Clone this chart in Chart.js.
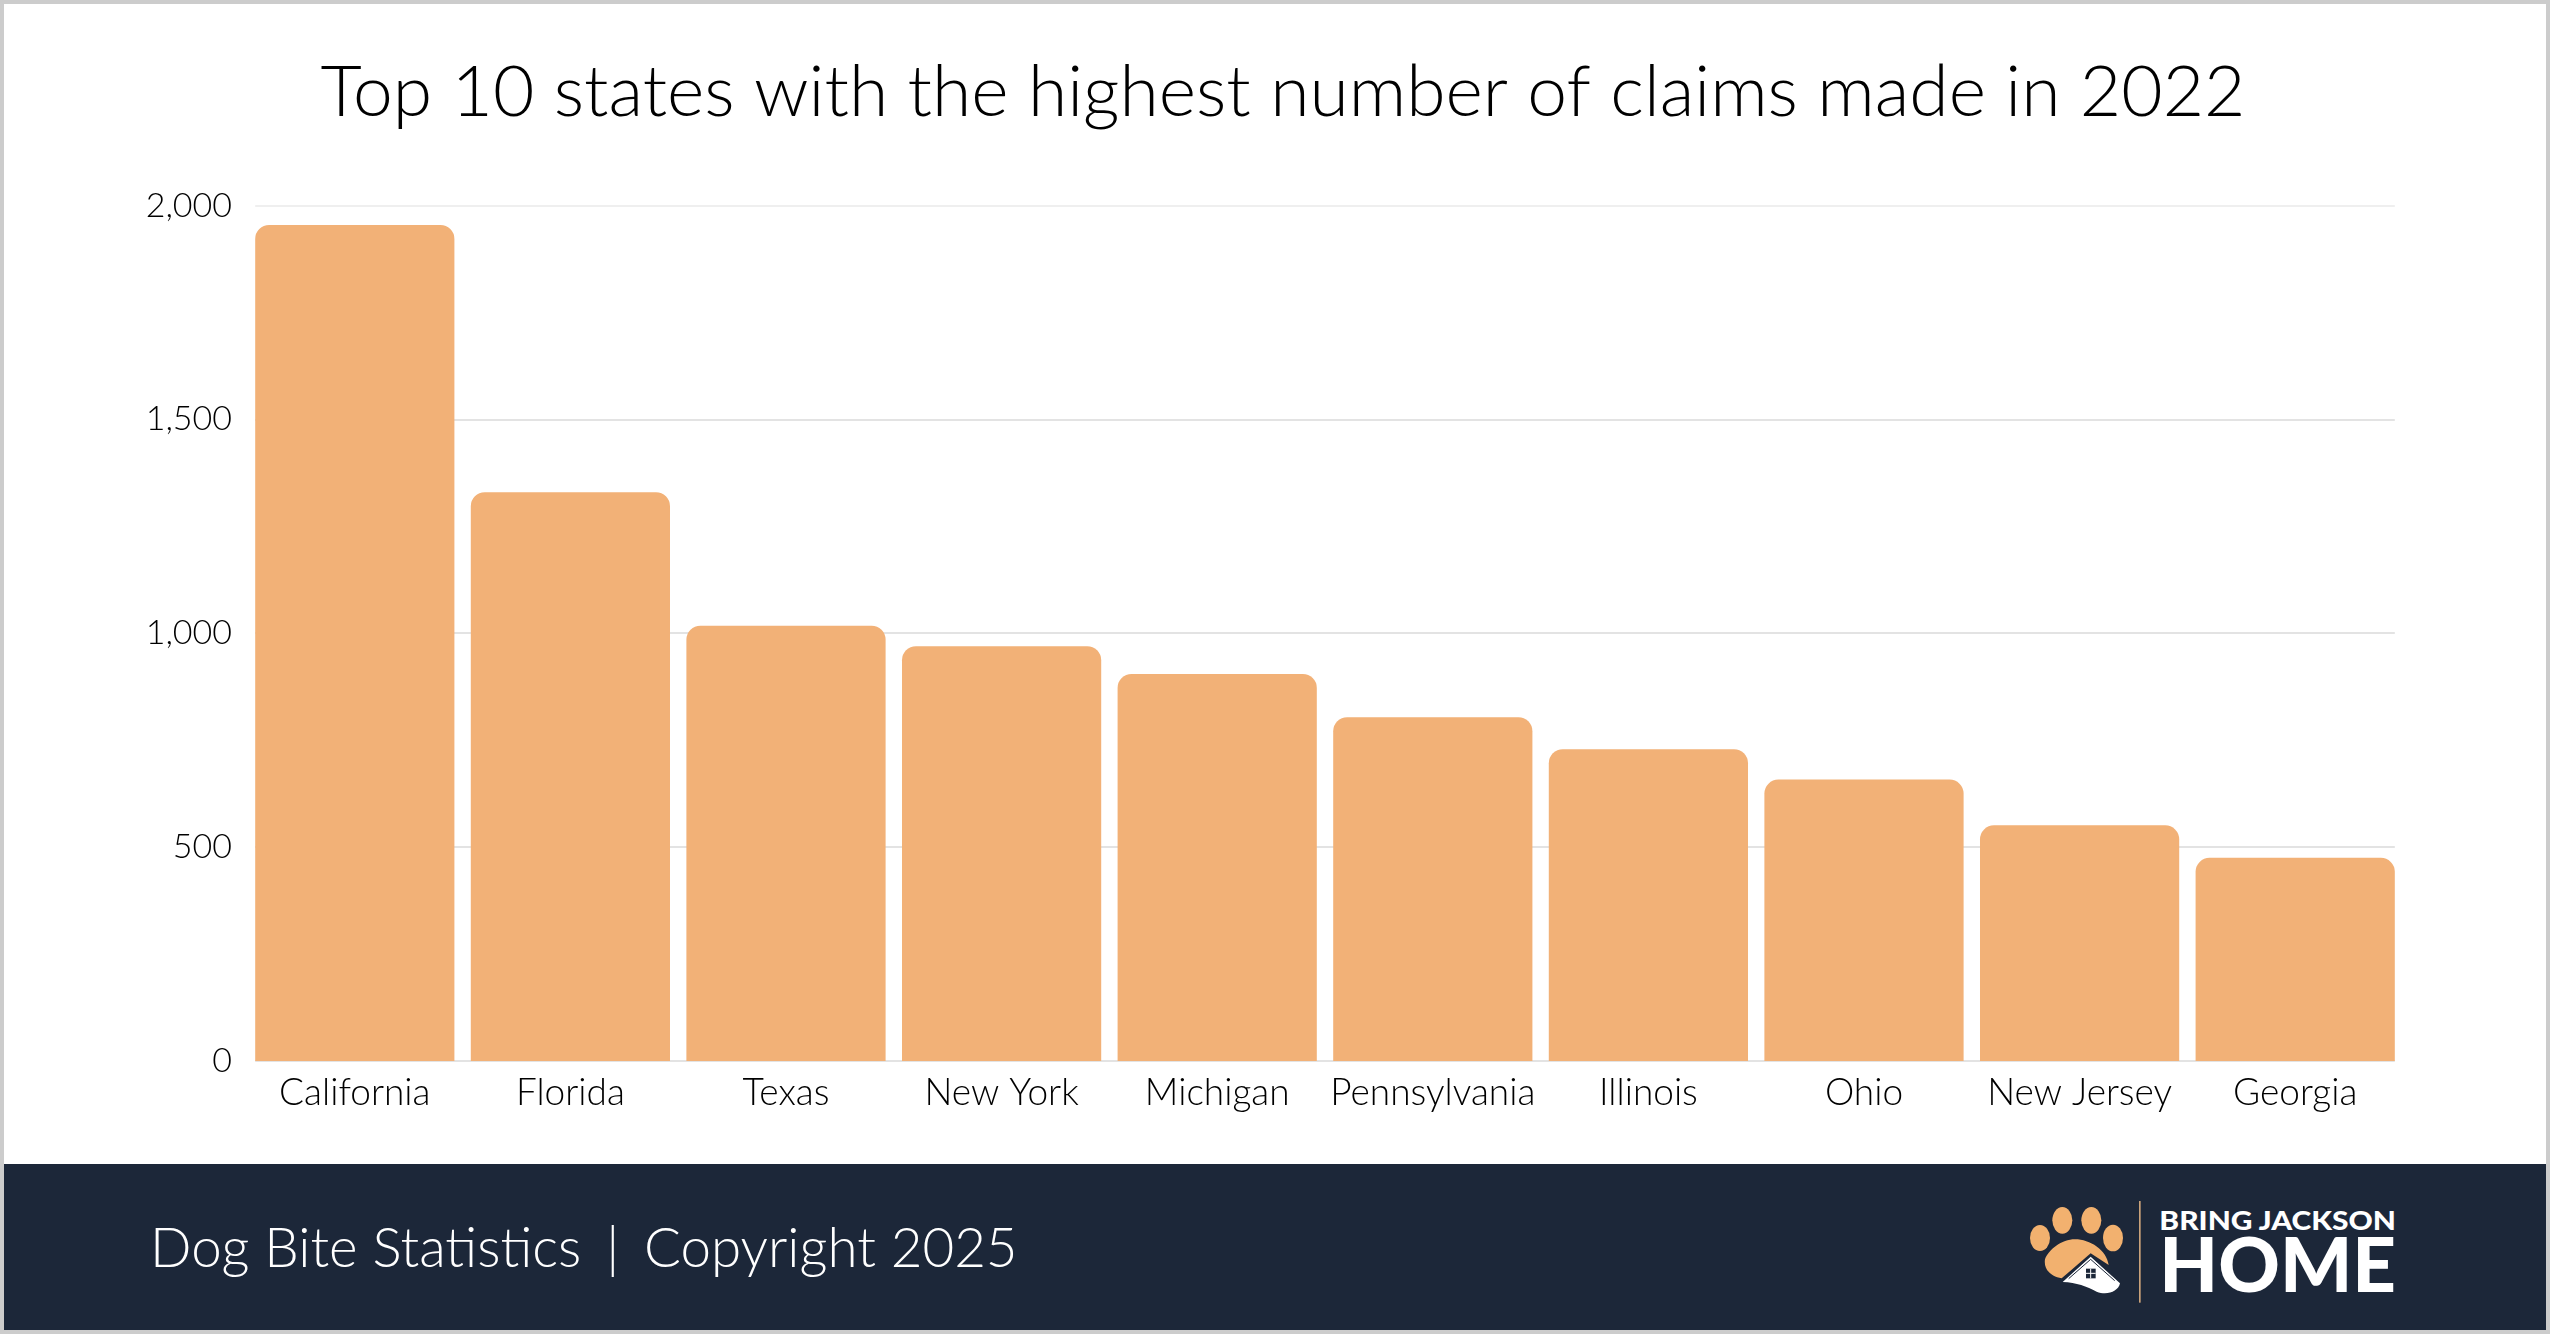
<!DOCTYPE html>
<html>
<head>
<meta charset="utf-8">
<title>Top 10 states</title>
<script src="https://cdn.jsdelivr.net/npm/chart.js@4"></script>
<style>
	html, body { margin: 0; padding: 0; background: #fff; }
	#page { position: relative; width: 2550px; height: 1334px; overflow: hidden; background: #fff; }
	#frame { position: absolute; inset: 0; border: 4px solid #ccc; box-sizing: border-box; pointer-events: none; }
	#chartBox { position: absolute; left: 0; top: 0; width: 2550px; height: 1164px; }
	#footer { position: absolute; left: 0; top: 1164px; width: 2550px; height: 166px; background: #1c2739; }
	#footerText { position: absolute; left: 150px; top: 46px; color: #fff; font: 300 54.7px Lato, sans-serif; white-space: nowrap; line-height: 72px; }
	#footerText span { margin: 0 10px; }
	#logo { position: absolute; left: 1950px; top: 6px; width: 500px; height: 164px; }
</style>
</head>
<body>
<div id="page">
	<div id="chartBox"><canvas id="chart" width="2550" height="1164"></canvas></div>
	<div id="footer">
		<div id="footerText">Dog Bite Statistics <span>|</span> Copyright 2025</div>
		<svg id="logo" viewBox="0 0 1500 492">
			<g fill="#f2b16f">
				<ellipse cx="270" cy="204" rx="30" ry="39"/>
				<ellipse cx="337" cy="151" rx="30" ry="40"/>
				<ellipse cx="424" cy="151" rx="30" ry="40"/>
				<ellipse cx="489" cy="204" rx="30" ry="40"/>
				<path d="M285 268 C295 240 335 208 375 208 C420 208 470 240 476 285 L422 250 L335 325 C305 320 280 300 285 268Z"/>
			</g>
			<path d="M338 336 L422 260 L510 340 C505 365 470 378 440 365 C410 350 380 337 338 336Z" fill="#fff"/>
			<path d="M356 326 L422 268 L494 332" fill="none" stroke="#1c2739" stroke-width="3"/>
			<rect x="408" y="296" width="29" height="29" fill="#1c2739"/>
			<path d="M422 296 V325 M408 310 H437" stroke="#fff" stroke-width="3"/>
			<rect x="567" y="93" width="5" height="305" fill="#c9a27a"/>
			<text x="628" y="180" font-family="Lato" font-weight="900" font-size="80" fill="#fff" textLength="710" lengthAdjust="spacingAndGlyphs">BRING JACKSON</text>
			<text x="628" y="366" font-family="Lato" font-weight="900" font-size="228" fill="#fff" textLength="710" lengthAdjust="spacingAndGlyphs">HOME</text>
		</svg>
	</div>
	<div id="frame"></div>
</div>
<script>
const states = ["California", "Florida", "Texas", "New York", "Michigan", "Pennsylvania", "Illinois", "Ohio", "New Jersey", "Georgia"];
const claims = [1955, 1330, 1018, 970, 905, 804, 729, 658, 551, 475];
const yTicks = [0, 500, 1000, 1500, 2000];

const barColour = "#f2b177";
const gridColour = "#e3e3e3";
const topGridColour = "#efefef";
const textColour = "#000";
const fontFamily = "Lato, sans-serif";

// gridlines run only from the first bar's left edge to the last bar's right edge
const shortGrid = {
	id: "shortGrid",
	beforeDatasetsDraw(chart) {
		const bars = chart.getDatasetMeta(0).data;
		const left = bars[0].x - bars[0].width / 2;
		const right = bars[bars.length - 1].x + bars[bars.length - 1].width / 2;
		const ctx = chart.ctx;
		ctx.save();
		ctx.lineWidth = 2;
		yTicks.forEach((tick) => {
			const y = Math.round(chart.scales.y.getPixelForValue(tick));
			ctx.strokeStyle = tick === 2000 ? topGridColour : gridColour;
			ctx.beginPath();
			ctx.moveTo(left, y);
			ctx.lineTo(right, y);
			ctx.stroke();
		});
		ctx.restore();
	},
};

new Chart(document.getElementById("chart"), {
	type: "bar",
	data: {
		labels: states,
		datasets: [
			{
				data: claims,
				backgroundColor: barColour,
				borderRadius: { topLeft: 14, topRight: 14 },
				borderSkipped: "bottom",
				categoryPercentage: 1,
				barPercentage: 0.924,
			},
		],
	},
	plugins: [shortGrid],
	options: {
		responsive: false,
		animation: false,
		devicePixelRatio: 1,
		// left padding only moves the title's centre; the empty right axis holds the right margin
		layout: { padding: { top: 50, right: 0, bottom: 0, left: 16 } },
		plugins: {
			legend: { display: false },
			tooltip: { enabled: false },
			title: {
				display: true,
				text: "Top 10 states with the highest number of claims made in 2022",
				color: textColour,
				font: { family: fontFamily, size: 71.4, weight: "300" },
				padding: { top: 0, bottom: 70 },
			},
		},
		scales: {
			x: {
				grid: { display: false, drawTicks: false },
				border: { display: false },
				ticks: {
					color: textColour,
					font: { family: fontFamily, size: 37, weight: "300" },
					padding: 10,
					maxRotation: 0,
					autoSkip: false,
				},
				afterFit(scale) {
					scale.height = 103;
				},
			},
			y: {
				min: 0,
				max: 2000,
				grid: { display: false, drawTicks: false },
				border: { display: false },
				ticks: {
					stepSize: 500,
					color: textColour,
					font: { family: fontFamily, size: 34, weight: "300" },
					padding: 15,
					callback: (value) => value.toLocaleString("en-US"),
				},
				afterFit(scale) {
					scale.width = 231;
				},
			},
			rightMargin: {
				position: "right",
				grid: { display: false, drawTicks: false },
				border: { display: false },
				ticks: { display: false },
				afterFit(scale) {
					scale.width = 147;
				},
			},
		},
	},
});
</script>
</body>
</html>
